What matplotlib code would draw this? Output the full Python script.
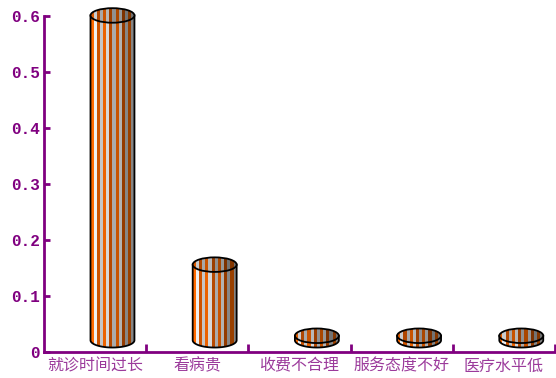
import numpy as np
import matplotlib.pyplot as plt
from matplotlib.patches import Polygon, Ellipse, Rectangle

# 患者对就医的主要不满
categories = ["就诊时间过长", "看病贵", "收费不合理", "服务态度不好", "医疗水平低"]
values = [0.58, 0.135, 0.008, 0.008, 0.008]
yticks = [0, 0.1, 0.2, 0.3, 0.4, 0.5, 0.6]
ytick_labels = ["0", "0.1", "0.2", "0.3", "0.4", "0.5", "0.6"]

purple = "#800080"
label_purple = "#9b3a9b"

fig = plt.figure(figsize=(5.56, 3.78), dpi=100)
ax = fig.add_axes([44 / 556, 26 / 378, 511 / 556, 350 / 378])
ax.set_xlim(0, 5)
ax.set_ylim(0, 0.625)

# pseudo-3D offset of the cylinders (depth)
dx, dy = 0.17, 0.021
half_w = 0.215
ell_h = 0.026

stripe_cols = ["#ff6a00", "#f2f2f2", "#d45500", "#d0d0d0"]


def shade(c, f):
    c = np.array(plt.matplotlib.colors.to_rgb(c))
    return tuple(c * f)


def cylinder(xc, y0, h):
    x_l, x_r = xc - half_w, xc + half_w
    y1 = y0 + h
    t = np.linspace(np.pi, 2 * np.pi, 60)
    bottom = np.column_stack([xc + half_w * np.cos(t), y0 + ell_h / 2 * np.sin(t)])
    body_pts = np.vstack([[[x_l, y1]], bottom, [[x_r, y1]]])
    body = Polygon(body_pts, closed=True, facecolor="none", edgecolor="black", lw=1.3, zorder=4)
    ax.add_patch(body)
    top = Ellipse((xc, y1), 2 * half_w, ell_h, facecolor="none", edgecolor="black", lw=1.3, zorder=6)
    ax.add_patch(top)
    n = 14
    sw = 2 * half_w / n
    for k in range(n):
        f = 1.0 - 0.45 * (k / (n - 1)) ** 1.5
        col = shade(stripe_cols[k % 4], f)
        r = Rectangle((x_l + k * sw, y0 - ell_h), sw, h + 2 * ell_h, facecolor=col, edgecolor="none", zorder=3)
        ax.add_patch(r)
        r.set_clip_path(body)
        r2 = Rectangle((x_l + k * sw, y0 - ell_h), sw, h + 2 * ell_h, facecolor=shade(col, 0.85),
                       edgecolor="none", zorder=5)
        ax.add_patch(r2)
        r2.set_clip_path(top)


for i, v in enumerate(values):
    cylinder(i + 0.5 + dx, dy, v)

for s in ["top", "right"]:
    ax.spines[s].set_visible(False)
for s in ["left", "bottom"]:
    ax.spines[s].set_color(purple)
    ax.spines[s].set_linewidth(2)
ax.spines["left"].set_bounds(0, 0.6)

ax.set_yticks(yticks)
ax.set_yticklabels(ytick_labels, family="Liberation Mono", fontweight="bold", fontsize=11.5, color=purple)
ax.tick_params(axis="y", direction="in", length=4, width=2, color=purple, pad=3)

ax.set_xticks(np.arange(1, 6))
ax.set_xticklabels([])
ax.tick_params(axis="x", direction="in", length=6, width=2, color=purple)
ax.set_xticks(np.arange(5) + 0.5, minor=True)
ax.set_xticklabels(categories, minor=True, family="Noto Sans CJK SC", fontsize=11.5, color=label_purple)
ax.tick_params(axis="x", which="minor", length=0, pad=4)

fig.savefig("out.png", dpi=100)
